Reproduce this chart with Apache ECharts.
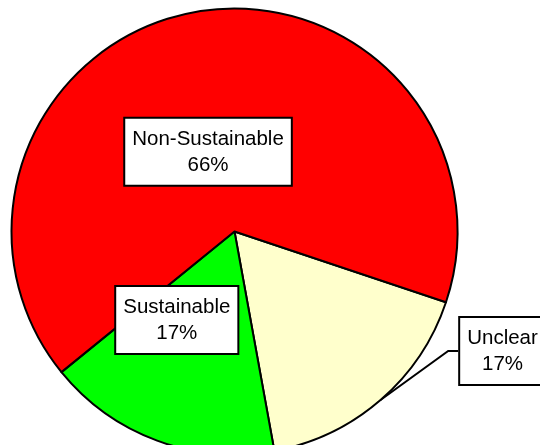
<!DOCTYPE html>
<html>
<head>
<meta charset="utf-8">
<script src="https://cdn.jsdelivr.net/npm/echarts@6/dist/echarts.min.js"></script>
<style>html,body{margin:0;padding:0;background:#fff;}#c{width:540px;height:445px;}</style>
</head>
<body>
<div id="c"></div>
<script>
var categories = ['Unclear', 'Sustainable', 'Non-Sustainable'];
var values = [17, 17, 66];
var colors = ['#FFFFCC', '#00FF00', '#FF0000'];

var chart = echarts.init(document.getElementById('c'), null, {renderer: 'canvas'});
var boxStyle = {
  backgroundColor: '#ffffff',
  borderColor: '#000000',
  borderWidth: 2,
  color: '#000000',
  fontFamily: 'Liberation Sans, Arial, sans-serif',
  fontSize: 20.5,
  lineHeight: 26,
  padding: [8, 7, 6, 7],
  formatter: '{b}\n{d}%'
};
var data = categories.map(function (c, i) {
  var d = {name: c, value: values[i], itemStyle: {color: colors[i]}};
  if (c === 'Non-Sustainable') {
    d.label = Object.assign({position: 'inside', offset: [-6, 33]}, boxStyle);
  } else if (c === 'Sustainable') {
    d.label = Object.assign({position: 'inside', offset: [-18, -19]}, boxStyle);
  } else {
    d.label = Object.assign({position: 'outside'}, boxStyle, {padding: [8, 11, 6, 7]});
    d.labelLine = {show: true, lineStyle: {color: '#000', width: 2}};
  }
  return d;
});
chart.setOption({
  animation: false,
  series: [{
    type: 'pie',
    center: [234.5, 231.5],
    radius: 223,
    startAngle: -18.5,
    clockwise: true,
    avoidLabelOverlap: false,
    itemStyle: {borderColor: '#000', borderWidth: 2},
    labelLine: {show: true, length: 10, length2: 10},
    labelLayout: function (params) {
      if (params.dataIndex === 0) {
        return {x: 504.5, y: 351, align: 'center', verticalAlign: 'middle'};
      }
      return {};
    },
    data: data
  }]
});
</script>
</body>
</html>
